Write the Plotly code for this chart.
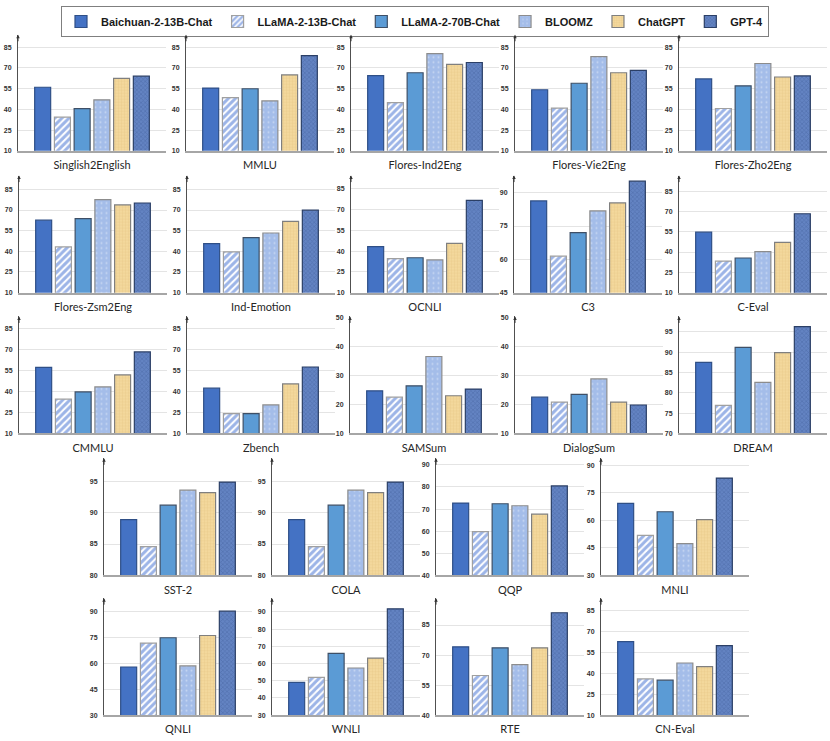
import plotly.graph_objects as go

# ---------------- data ----------------
models = ["Baichuan-2-13B-Chat", "LLaMA-2-13B-Chat", "LLaMA-2-70B-Chat", "BLOOMZ", "ChatGPT", "GPT-4"]

datasets = ["Singlish2English", "MMLU", "Flores-Ind2Eng", "Flores-Vie2Eng", "Flores-Zho2Eng",
            "Flores-Zsm2Eng", "Ind-Emotion", "OCNLI", "C3", "C-Eval",
            "CMMLU", "Zbench", "SAMSum", "DialogSum", "DREAM",
            "SST-2", "COLA", "QQP", "MNLI",
            "QNLI", "WNLI", "RTE", "CN-Eval"]

baichuan = [56.0, 55.4, 64.4, 54.2, 62.0, 62.6, 45.6, 43.2, 86.3, 54.7, 57.5, 42.5, 24.7, 22.5, 87.5,
            88.9, 88.9, 72.7, 69.2, 58.0, 49.1, 74.1, 62.6]
llama13 = [34.3, 48.5, 44.9, 40.9, 40.6, 43.2, 39.6, 34.5, 61.4, 33.3, 34.6, 24.3, 22.5, 20.8, 76.9,
           84.6, 84.6, 59.8, 51.7, 71.9, 52.0, 59.8, 35.9]
llama70 = [40.5, 54.9, 66.5, 58.9, 57.0, 63.8, 49.9, 35.2, 72.0, 35.6, 39.8, 24.3, 26.4, 23.5, 91.2,
           91.2, 91.2, 72.4, 64.6, 75.0, 65.9, 73.6, 35.0]
bloomz = [46.9, 46.1, 80.3, 78.2, 73.2, 77.5, 53.3, 33.6, 81.8, 40.3, 43.4, 30.5, 36.5, 28.8, 82.6,
          93.6, 93.6, 71.5, 47.2, 58.6, 57.4, 65.2, 47.3]
chatgpt = [62.4, 64.9, 72.5, 66.5, 63.4, 73.7, 61.7, 45.6, 85.4, 47.2, 52.0, 45.6, 23.0, 20.8, 89.9,
           93.2, 93.2, 67.7, 60.3, 76.3, 63.2, 73.6, 44.7]
gpt4 = [64.0, 78.9, 73.9, 68.2, 64.2, 75.1, 69.9, 76.6, 95.2, 68.3, 68.5, 57.7, 25.3, 19.8, 96.3,
        94.9, 94.9, 80.5, 82.9, 90.4, 91.8, 91.1, 59.8]

T1085 = [10, 25, 40, 55, 70, 85]
y_ticks = [T1085, T1085, T1085, T1085, T1085,
           T1085, T1085, T1085, [45, 60, 75, 90], T1085,
           T1085, T1085, [10, 20, 30, 40, 50], [10, 20, 30, 40, 50], [70, 75, 80, 85, 90, 95],
           [80, 85, 90, 95], [80, 85, 90, 95], [40, 50, 60, 70, 80, 90], [30, 45, 60, 75, 90],
           [30, 45, 60, 75, 90], [30, 40, 50, 60, 70, 80, 90], [40, 55, 70, 85], T1085]
y_top = [94, 94, 94, 94, 94,
         95, 95, 94.5, 97.7, 96.5,
         94, 94, 50.3, 50.3, 98.8,
         98.7, 98.7, 93, 93.7,
         98, 98, 98.4, 93.7]

series = [baichuan, llama13, llama70, bloomz, chatgpt, gpt4]

# ---------------- styles ----------------
styles = [
    dict(color="#4472C4", line=dict(color="#2F4F86", width=1.2)),
    dict(color="#4472C4", line=dict(color="#A0A0A0", width=1.2),
         pattern=dict(shape="/", fgcolor="#3A6AD0", bgcolor="#FFFFFF", size=5, solidity=0.6)),
    dict(color="#5B9BD5", line=dict(color="#3E4F66", width=1.2)),
    dict(color="#A7C0EA", line=dict(color="#8C8C8C", width=1.2),
         pattern=dict(shape=".", fgcolor="#E8EFFA", bgcolor="#A4BDE9", size=5, solidity=0.12)),
    dict(color="#F1D596", line=dict(color="#7F7F7F", width=1.2),
         pattern=dict(shape="+", fgcolor="#E0C27E", bgcolor="#F3D89C", size=3, solidity=0.3)),
    dict(color="#5A7EC0", line=dict(color="#2B3F66", width=1.2),
         pattern=dict(shape="x", fgcolor="#42609E", bgcolor="#6383C2", size=3, solidity=0.4)),
]

# ---------------- layout geometry ----------------
W, H = 830, 741
PW = 148
rows = [
    dict(lefts=[18, 186, 351, 515, 679], base=149, top=32),
    dict(lefts=[19, 187, 351, 514, 679], base=292, top=174),
    dict(lefts=[19, 187, 350, 515, 679], base=434, top=316),
    dict(lefts=[104, 272, 436, 601], base=577, top=459),
    dict(lefts=[104, 272, 436, 601], base=718, top=600),
]

fig = go.Figure()
layout = dict(
    width=W, height=H, margin=dict(l=0, r=0, t=0, b=0),
    paper_bgcolor="white", plot_bgcolor="white",
    barmode="group", bargap=0.2, bargroupgap=0.19,
    showlegend=True,
    legend=dict(orientation="h", x=0.5, xanchor="center", y=1 - 3 / H, yanchor="top",
                bordercolor="#7F7F7F", borderwidth=1, bgcolor="white",
                font=dict(family="Liberation Sans", size=11, color="#1A1A1A", weight="bold"),
                itemwidth=30, tracegroupgap=0),
)
annotations = []

k = 0
for row in rows:
    for L in row["lefts"]:
        k += 1
        idx = k - 1
        xn = "x" if k == 1 else f"x{k}"
        yn = "y" if k == 1 else f"y{k}"
        xa = "xaxis" if k == 1 else f"xaxis{k}"
        ya = "yaxis" if k == 1 else f"yaxis{k}"
        ticks = y_ticks[idx]
        layout[xa] = dict(
            domain=[L / W, (L + PW) / W], anchor=yn, type="category", range=[-0.5, 0.5],
            showline=True, linecolor="#A6A6A6", linewidth=2, showgrid=False, zeroline=False,
            ticks="outside", ticklen=3, tickcolor="rgba(0,0,0,0)",
            tickfont=dict(family="Lato", size=11, color="#262626"), fixedrange=True,
        )
        layout[ya] = dict(
            domain=[1 - row["base"] / H, 1 - row["top"] / H], anchor=xn,
            range=[ticks[0], y_top[idx]], tickvals=ticks,
            showline=True, linecolor="#505050", linewidth=1,
            showgrid=True, gridcolor="#E4E4E4", gridwidth=1, zeroline=False,
            ticks="outside", ticklen=4, tickcolor="rgba(0,0,0,0)",
            tickfont=dict(family="Liberation Sans", size=7, color="#333333", weight="bold"),
            fixedrange=True,
        )
        annotations.append(dict(
            x=0, y=1, xref=f"{xn} domain", yref=f"{yn} domain", text="",
            showarrow=True, ax=0, ay=8, axref="pixel", ayref="pixel",
            arrowhead=2, arrowsize=0.7, arrowwidth=1, arrowcolor="#333333",
        ))
        for m, name in enumerate(models):
            fig.add_trace(go.Bar(
                x=[datasets[idx]], y=[series[m][idx]], name=name, legendgroup=name,
                showlegend=(k == 1), xaxis=xn, yaxis=yn, marker=styles[m],
                hoverinfo="x+y+name",
            ))

layout["annotations"] = annotations
fig.update_layout(**layout)

fig.write_html("out.html", config={"displayModeBar": False},
               post_script="document.body.style.margin='0';")
